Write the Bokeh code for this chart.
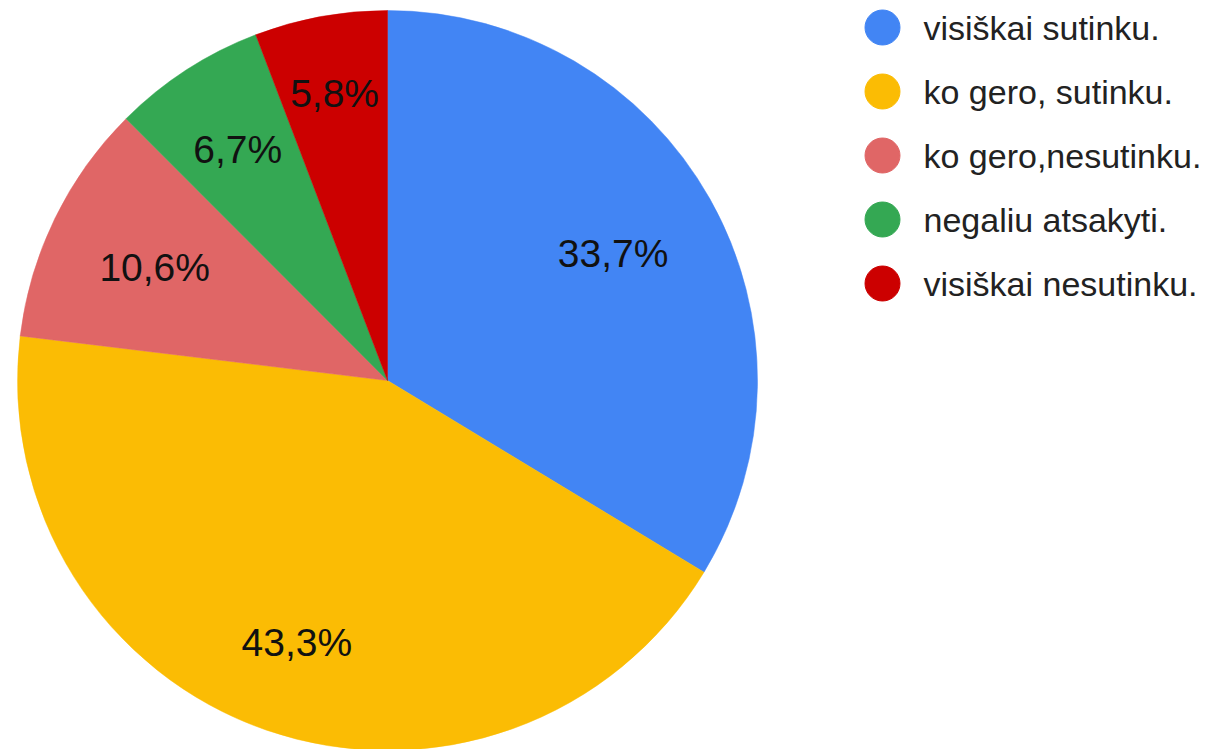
import math
from bokeh.plotting import figure
from bokeh.models import Range1d, ColumnDataSource
from bokeh.core.properties import value
from bokeh.embed import file_html
from bokeh.resources import INLINE

# ---- data ----
categories = ["visiškai sutinku.", "ko gero, sutinku.", "ko gero,nesutinku.",
              "negaliu atsakyti.", "visiškai nesutinku."]
shares = [33.7, 43.3, 10.6, 6.7, 5.8]
labels = ["33,7%", "43,3%", "10,6%", "6,7%", "5,8%"]

# ---- style / layout ----
colors = ["#4285F4", "#FBBC04", "#E06666", "#34A853", "#CC0000"]
label_radius_frac = [0.70, 0.75, 0.70, 0.745, 0.79]

W, H = 1213, 749
cx, cy, R = 387, H - 380, 370

total = sum(shares)
starts, ends, lx, ly = [], [], [], []
cum = 0.0
for s, f in zip(shares, label_radius_frac):
    a0 = math.pi / 2 - 2 * math.pi * cum / total
    a1 = math.pi / 2 - 2 * math.pi * (cum + s) / total
    starts.append(a0)
    ends.append(a1)
    mid = (a0 + a1) / 2
    lx.append(cx + f * R * math.cos(mid))
    ly.append(cy + f * R * math.sin(mid))
    cum += s

src = ColumnDataSource(dict(start=starts, end=ends, color=colors,
                            lx=lx, ly=ly, label=labels))

p = figure(width=W, height=H, output_backend="svg", toolbar_location=None,
           x_range=Range1d(0, W), y_range=Range1d(0, H), min_border=0,
           x_axis_location=None, y_axis_location=None)
p.grid.visible = False
p.outline_line_color = None
p.background_fill_color = "white"

p.wedge(x=cx, y=cy, radius=R, start_angle="start", end_angle="end",
        direction="clock", fill_color="color", line_color="color",
        line_width=0.5, source=src)

p.text(x="lx", y="ly", text="label", source=src, text_align="center",
       text_baseline="middle", text_font=value("Liberation Sans"),
       text_font_size="39px", text_color="#111111")

# legend drawn manually
leg_x, leg_top, leg_step = 882, H - 27, 64
leg_src = ColumnDataSource(dict(
    mx=[leg_x] * len(categories),
    my=[leg_top - i * leg_step for i in range(len(categories))],
    tx=[leg_x + 41] * len(categories),
    name=categories, color=colors))
p.scatter(x="mx", y="my", size=35, marker="circle", fill_color="color",
          line_color="color", source=leg_src)
p.text(x="tx", y="my", text="name", source=leg_src, text_align="left",
       text_baseline="middle", text_font=value("Liberation Sans"),
       text_font_size="34px", text_color="#222222")

open("out.html", "w").write(file_html(p, INLINE))
